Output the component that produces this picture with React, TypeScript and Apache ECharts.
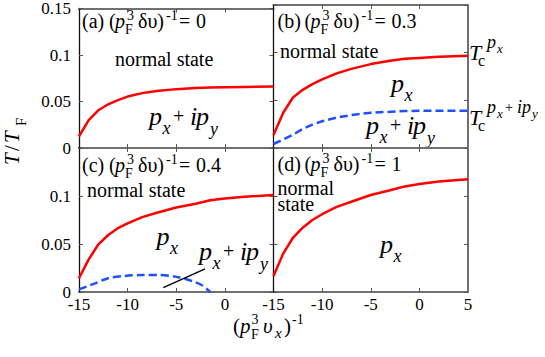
import { useEffect, useRef } from 'react';
import * as echarts from 'echarts';

const FONT = 'Liberation Serif';

// ---- data ----
const xs = [-15, -14, -13, -12, -11, -10, -8.5, -7, -5, -3, -1.5, 0, 2, 5];
const redA = [0.0126, 0.03, 0.0406, 0.047, 0.0515, 0.0553, 0.059, 0.0612, 0.0633, 0.0645, 0.065, 0.0653, 0.0656, 0.066];
const redB = [0.0136, 0.037, 0.053, 0.061, 0.067, 0.072, 0.0783, 0.083, 0.088, 0.0915, 0.0935, 0.0945, 0.0958, 0.0968];
const blueB = [0.0042, 0.009, 0.0138, 0.02, 0.0245, 0.028, 0.032, 0.0345, 0.037, 0.038, 0.0388, 0.039, 0.039, 0.0391];
const redC = [0.0143, 0.034, 0.0497, 0.0594, 0.0665, 0.0715, 0.078, 0.0825, 0.088, 0.092, 0.0955, 0.0975, 0.0993, 0.101];
const xsBlueC = [-15, -13.35, -12, -10.3, -8.5, -6.8, -5.1, -3.4, -2.4, -1.5];
const blueC = [0.0028, 0.009, 0.0143, 0.0167, 0.0177, 0.0177, 0.016, 0.0115, 0.0073, 0.0];
const redD = [0.0167, 0.04, 0.0565, 0.067, 0.075, 0.081, 0.0887, 0.094, 0.101, 0.106, 0.11, 0.1125, 0.115, 0.1174];
const pointerX = [-6.33, -2.04];
const pointerY = [0.0045, 0.024];
const panelLetters = ['a', 'b', 'c', 'd'];
const panelValues = ['0', '0.3', '0.4', '1'];
const xMin = -15, xMax = 5, xStep = 5;
const yMin = 0, yMax = 0.15, yStep = 0.05;

type Piece = { t: string; x: number; dy?: number; s?: number; i?: boolean };

function txt(ps: Piece[], ox: number, oy: number, base: number, rotation = 0) {
  return {
    type: 'group',
    x: ox,
    y: oy,
    rotation,
    silent: true,
    children: ps.map((p) => {
      const s = p.s ?? base;
      return {
        type: 'text',
        x: p.x,
        y: (p.dy ?? 0) - 0.3375 * s,
        style: {
          text: p.t,
          fontFamily: FONT,
          fontSize: s,
          fontStyle: p.i ? 'italic' : 'normal',
          fill: '#000',
          align: 'left',
          verticalAlign: 'middle',
        },
      };
    }),
  };
}

const panelLabel = (letter: string, val: string): Piece[] => [
  { t: `(${letter})`, x: 0 },
  { t: '(', x: 27 },
  { t: 'p', x: 33, i: true },
  { t: 'F', x: 43, s: 14, dy: 6 },
  { t: '3', x: 45, s: 14, dy: -8 },
  { t: 'δυ)', x: 56 },
  { t: '-1', x: 84, s: 14, dy: -8 },
  { t: '=', x: 97 },
  { t: val, x: 114 },
];

const pxipy: Piece[] = [
  { t: 'p', x: 0, i: true },
  { t: 'x', x: 13.5, i: true, s: 18, dy: 9 },
  { t: '+', x: 24, s: 20, dy: -2 },
  { t: 'i', x: 41, i: true },
  { t: 'p', x: 47, i: true },
  { t: 'y', x: 61, i: true, s: 18, dy: 10 },
];
const px: Piece[] = [
  { t: 'p', x: 0, i: true },
  { t: 'x', x: 13.5, i: true, s: 18, dy: 9 },
];

const tcPx: Piece[] = [
  { t: 'T', x: 0, i: true, s: 22 },
  { t: 'c', x: 9, s: 16, dy: 6 },
  { t: 'p', x: 18, i: true, s: 18, dy: -12 },
  { t: 'x', x: 28, i: true, s: 13, dy: -7 },
];
const tcPxipy: Piece[] = [
  ...tcPx,
  { t: '+', x: 36, s: 14, dy: -13 },
  { t: 'i', x: 48, i: true, s: 18, dy: -12 },
  { t: 'p', x: 53, i: true, s: 18, dy: -12 },
  { t: 'y', x: 63, i: true, s: 13, dy: -7 },
];

const xTitle: Piece[] = [
  { t: '(', x: 0 },
  { t: 'p', x: 7, i: true },
  { t: 'F', x: 18, s: 14, dy: 6 },
  { t: '3', x: 18.5, s: 14, dy: -9 },
  { t: 'υ', x: 30, i: true },
  { t: 'x', x: 42, i: true, s: 15, dy: 5 },
  { t: ')', x: 51 },
  { t: '-1', x: 59, s: 14, dy: -9 },
];

const yTitle: Piece[] = [
  { t: 'T', x: 0, i: true },
  { t: '/', x: 14 },
  { t: 'T', x: 22, i: true },
  { t: 'F', x: 39, s: 15, dy: 7 },
];

const grids = [
  { left: 79, top: 5, width: 194.5, height: 143 },
  { left: 273.5, top: 5, width: 194.5, height: 143 },
  { left: 79, top: 148, width: 194.5, height: 144 },
  { left: 273.5, top: 148, width: 194.5, height: 144 },
];

function buildOption() {
  const tick = { inside: true, length: 4, lineStyle: { color: '#555', width: 1 } };
  const xAxis: any[] = [];
  const yAxis: any[] = [];
  grids.forEach((_, i) => {
    const base = { gridIndex: i, type: 'value', min: xMin, max: xMax, interval: xStep, splitLine: { show: false } };
    xAxis.push({
      ...base,
      position: 'bottom',
      axisLine: { show: true, onZero: false, lineStyle: { color: '#707070', width: 2 } },
      axisTick: tick,
      axisLabel: {
        show: i >= 2,
        showMaxLabel: i === 3,
        fontFamily: FONT,
        fontSize: 17,
        color: '#000',
        margin: 4,
      },
    });
    xAxis.push({
      ...base,
      position: 'top',
      axisLine: { show: true, onZero: false, lineStyle: { color: '#707070', width: 2 } },
      axisTick: tick,
      axisLabel: { show: false },
    });
    const ybase = { gridIndex: i, type: 'value', min: yMin, max: yMax, interval: yStep, splitLine: { show: false } };
    yAxis.push({
      ...ybase,
      position: 'left',
      z: 3,
      axisLine: { show: true, onZero: false, lineStyle: { color: '#111', width: 1.3 } },
      axisTick: tick,
      axisLabel: {
        show: i === 0 || i === 2,
        showMaxLabel: i === 0,
        fontFamily: FONT,
        fontSize: 17,
        color: '#000',
        margin: 8,
        padding: [6, 0, 0, 0],
        formatter: (v: number) => String(+v.toFixed(2)),
      },
    });
    yAxis.push({
      ...ybase,
      position: 'right',
      z: 1,
      axisLine: { show: i === 1 || i === 3, onZero: false, lineStyle: { color: '#707070', width: 2 } },
      axisTick: tick,
      axisLabel: { show: false },
    });
  });

  const red = (g: number, ys: number[]) => ({
    type: 'line',
    xAxisIndex: g * 2,
    yAxisIndex: g * 2,
    data: xs.map((x, k) => [x, ys[k]]),
    showSymbol: false,
    smooth: false,
    lineStyle: { color: '#ff0000', width: 2.5, join: 'round' },
    z: 5,
  });
  const blue = (g: number, xv: number[], ys: number[], smooth: any) => ({
    type: 'line',
    xAxisIndex: g * 2,
    yAxisIndex: g * 2,
    data: xv.map((x, k) => [x, ys[k]]),
    showSymbol: false,
    smooth,
    lineStyle: { color: '#1f50ff', width: 2.5, type: [8, 4] },
    z: 5,
  });

  const series = [
    red(0, redA),
    red(1, redB),
    blue(1, xs, blueB, false),
    red(2, redC),
    blue(2, xsBlueC, blueC, 0.3),
    {
      type: 'line',
      xAxisIndex: 4,
      yAxisIndex: 4,
      data: pointerX.map((x, k) => [x, pointerY[k]]),
      showSymbol: false,
      lineStyle: { color: '#000', width: 1.4 },
      z: 6,
    },
    red(3, redD),
  ];

  const ns = (x: number, y: number, t = 'normal state') => ({
    type: 'text',
    x,
    y: y - 0.3375 * 20,
    silent: true,
    style: { text: t, fontFamily: FONT, fontSize: 20, fill: '#000', align: 'left', verticalAlign: 'middle' },
  });

  const graphic = [
    txt(panelLabel(panelLetters[0], panelValues[0]), 82, 28, 20),
    txt(panelLabel(panelLetters[1], panelValues[1]), 277.5, 28, 20),
    txt(panelLabel(panelLetters[2], panelValues[2]), 82, 172, 20),
    txt(panelLabel(panelLetters[3], panelValues[3]), 277.5, 171, 20),
    ns(115, 66),
    ns(280, 58),
    ns(87, 197),
    ns(277.5, 195, 'normal'),
    ns(277.5, 211, 'state'),
    txt(pxipy, 149, 125, 26),
    txt(px, 391, 92, 26),
    txt(pxipy, 366, 134, 26),
    txt(px, 156.5, 245, 26),
    txt(pxipy, 199, 260, 26),
    txt(px, 380, 253, 26),
    txt(tcPx, 469, 60, 22),
    txt(tcPxipy, 469, 125, 22),
    txt(xTitle, 233, 333, 21),
    txt(yTitle, 19, 165, 21, Math.PI / 2),
  ];

  return {
    animation: false,
    backgroundColor: '#fff',
    textStyle: { fontFamily: FONT },
    grid: grids.map((g) => ({ ...g, containLabel: false })),
    xAxis,
    yAxis,
    series,
    graphic,
  };
}

export default function App() {
  const ref = useRef<HTMLDivElement>(null);
  useEffect(() => {
    if (!ref.current) return;
    const chart = echarts.init(ref.current, undefined, { renderer: 'svg' });
    chart.setOption(buildOption() as any);
    return () => chart.dispose();
  }, []);
  return (
    <>
      <style>{`.chart-host, .chart-host * { font-family: 'Liberation Serif' !important; }`}</style>
      <div
        ref={ref}
        className="chart-host"
        style={{ position: 'fixed', left: 0, top: 0, width: 545, height: 357, background: '#fff' }}
      />
    </>
  );
}
